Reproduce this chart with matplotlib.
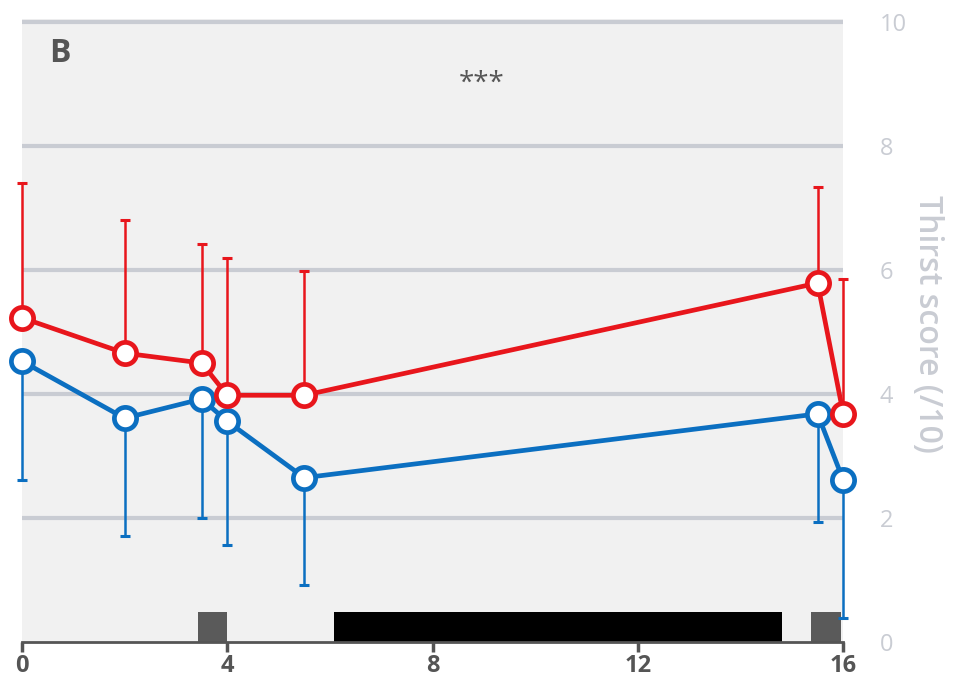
import matplotlib.pyplot as plt
import numpy as np

# time points (h) and mean thirst scores
x = [0, 2, 3.5, 4, 5.5, 15.5, 16]
red_mean = [5.23, 4.66, 4.50, 3.98, 3.98, 5.79, 3.68]
red_upper = [7.40, 6.81, 6.42, 6.19, 5.98, 7.34, 5.85]
blue_mean = [4.53, 3.61, 3.92, 3.56, 2.65, 3.68, 2.61]
blue_lower = [2.61, 1.71, 2.00, 1.56, 0.92, 1.94, 0.39]

# bars along the time axis: (start, end, colour)
bar_start = [3.43, 6.08, 15.37]
bar_end = [4.0, 14.81, 15.96]
bar_color = ['#5a5a5a', '#000000', '#5a5a5a']
bar_height = 0.48

xticks = [0, 4, 8, 12, 16]
yticks = [0, 2, 4, 6, 8, 10]

red = '#e8161c'
blue = '#0b6fc1'
grid_col = '#c9ccd3'
label_col = '#c9ccd3'
dark = '#555555'

plt.rcParams['font.family'] = ['Open Sans', 'DejaVu Sans']

fig = plt.figure(figsize=(9.55, 6.93), dpi=100)
ax = fig.add_axes([0.023, 0.0736, 0.86, 0.899])
ax.set_facecolor('#f1f1f1')
ax.set_xlim(0, 16)
ax.set_ylim(0, 10.05)

for g in yticks[1:]:
    ax.axhline(g, color=grid_col, lw=3, zorder=1)

for s, e, c in zip(bar_start, bar_end, bar_color):
    ax.bar(s, bar_height, width=e - s, align='edge', color=c, zorder=2)

red_err = [np.zeros(len(x)), np.array(red_upper) - np.array(red_mean)]
blue_err = [np.array(blue_mean) - np.array(blue_lower), np.zeros(len(x))]

for m, err, c in [(red_mean, red_err, red), (blue_mean, blue_err, blue)]:
    eb = ax.errorbar(x, m, yerr=err, fmt='none', ecolor=c, elinewidth=1.8,
                     capsize=3.5, capthick=2.2, zorder=3)
    for art in eb.lines[1] + eb.lines[2]:
        art.set_clip_on(False)

ax.plot(x, blue_mean, color=blue, lw=3.4, marker='o', ms=16, mfc='white',
        mec=blue, mew=3.4, zorder=4, clip_on=False)
ax.plot(x, red_mean, color=red, lw=3.4, marker='o', ms=16, mfc='white',
        mec=red, mew=3.4, zorder=5, clip_on=False)

ax.text(0.73, 9.5, 'B', fontsize=23, fontweight='bold', color=dark,
        ha='center', va='center')
ax.text(8.95, 9.0, '***', fontsize=20, color=dark, ha='center', va='center')

for sp in ['top', 'left', 'right']:
    ax.spines[sp].set_visible(False)
ax.spines['bottom'].set_color(dark)
ax.spines['bottom'].set_linewidth(2)
ax.spines['bottom'].set_zorder(6)

ax.set_xticks(xticks)
ax.set_xticklabels([str(t) for t in xticks], fontsize=17, fontweight='bold', color=dark)
ax.tick_params(axis='x', length=7, width=2.5, color=dark, pad=2)

ax.yaxis.tick_right()
ax.set_yticks(yticks)
ax.set_yticklabels([str(t) for t in yticks], fontsize=17, color=label_col)
ax.tick_params(axis='y', length=0, pad=26)
ax.yaxis.set_label_position('right')
ax.set_ylabel('Thirst score (/10)', fontsize=23, fontweight='semibold',
              color=label_col, rotation=270, labelpad=22)
ax.yaxis.set_label_coords(1.123, 0.51)

fig.savefig('out.png', dpi=100)
